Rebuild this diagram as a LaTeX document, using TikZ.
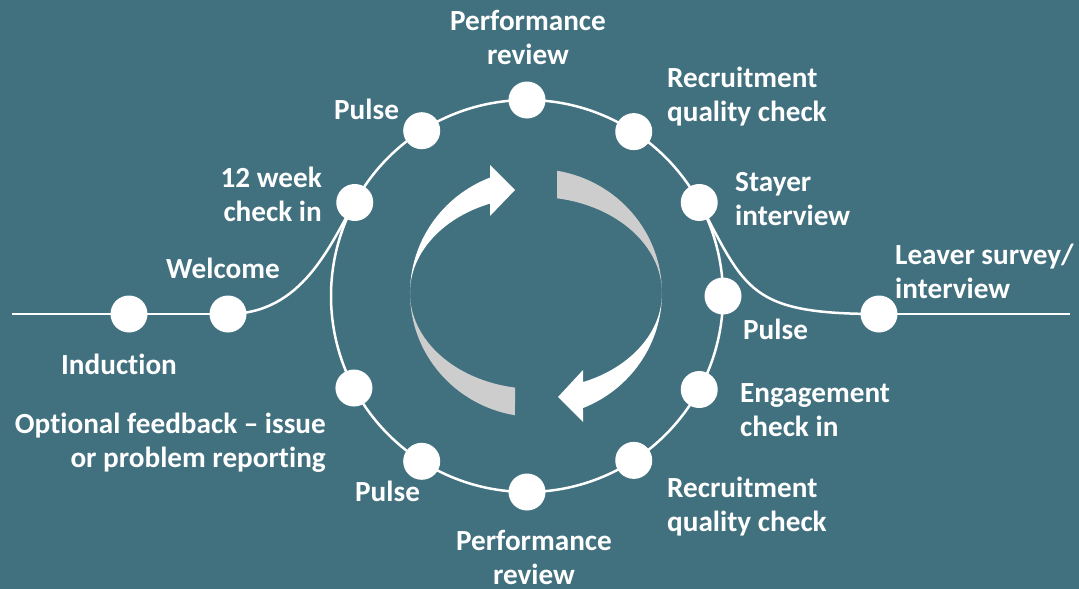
\documentclass[tikz,border=0pt]{standalone}
\usepackage{fontspec}
\setmainfont{Carlito}[Ligatures=NoCommon]
\usetikzlibrary{calc,backgrounds}
\definecolor{bg}{HTML}{41707F}
\definecolor{backgrey}{HTML}{CDCDCD}
\newcommand\mylbl[2]{\begin{tabular}[t]{@{}#1@{}}#2\end{tabular}}
\begin{document}
\begin{tikzpicture}[x=1pt,y=-1pt,
  dot/.style={circle,fill=white,minimum size=37pt,inner sep=0pt},
  txt/.style={text=white,inner sep=0pt,font=\fontsize{29.2}{34}\selectfont\bfseries},
  track/.style={draw=white,line width=2.5pt}]
\useasboundingbox (0,0) rectangle (1079,589);
\coordinate (C) at (527,296);
\coordinate (L0) at (12,314);
\coordinate (R0) at (1070,314);
% dots on circle
\node[dot] (prT) at ($(C)+(-90:196)$) {};
\node[dot] (rqT) at ($(C)+(-57:196)$) {};
\node[dot] (sty) at ($(C)+(-28.5:196)$) {};
\node[dot] (puR) at ($(C)+(0:196)$) {};
\node[dot] (eng) at ($(C)+(28.5:196)$) {};
\node[dot] (rqB) at ($(C)+(57:196)$) {};
\node[dot] (prB) at ($(C)+(90:196)$) {};
\node[dot] (puB) at ($(C)+(122.5:196)$) {};
\node[dot] (opt) at ($(C)+(152:196)$) {};
\node[dot] (wk) at ($(C)+(208.5:196)$) {};
\node[dot] (puT) at ($(C)+(237.5:196)$) {};
% side dots
\node[dot] (ind) at (129,314) {};
\node[dot] (wel) at (228,314) {};
\node[dot] (lea) at (879,314) {};
% tracks behind the dots
\begin{scope}[on background layer]
\fill[bg] (0,0) rectangle (1079,589);
\draw[track] (C) circle[radius=196];
\draw[track] (L0) -- (ind.center) -- (wel.center);
\draw[track] (wel.center) .. controls (303,314) and (330,244) .. (wk.center);
\draw[track] (sty.center) .. controls (746,290) and (749,314) .. (lea.center);
\draw[track] (lea.center) -- (R0);
\end{scope}
% central cycle arrows
\coordinate (A) at (536,293);
\fill[white] (410,293) arc[start angle=180, end angle=248.6, x radius=126, y radius=124]
  -- (490,165) -- (515,190) -- (490,216) -- (490,203.6)
  arc[start angle=248.6, end angle=180, x radius=126, y radius=96] -- cycle;
\fill[backgrey] (410,293) arc[start angle=180, end angle=99.6, x radius=126, y radius=124]
  -- (515,387.6)
  arc[start angle=99.6, end angle=180, x radius=126, y radius=96] -- cycle;
\fill[backgrey] (662,293) arc[start angle=0, end angle=-80.4, x radius=126, y radius=124]
  -- (557,198.3)
  arc[start angle=-80.4, end angle=0, x radius=126, y radius=96] -- cycle;
\fill[white] (662,293) arc[start angle=0, end angle=68.1, x radius=126, y radius=124]
  -- (583,422) -- (558,397) -- (583,370) -- (583,382.1)
  arc[start angle=68.1, end angle=0, x radius=126, y radius=96] -- cycle;
% labels
\node[txt,anchor=base] (tprT) at (528,30) {\mylbl{c}{Performance\\review}};
\node[txt,anchor=base west] (trqT) at (667,87) {\mylbl{l}{Recruitment\\quality check}};
\node[txt,anchor=base west] (tsty) at (735,191) {\mylbl{l}{Stayer\\interview}};
\node[txt,anchor=base west] (tlea) at (895,264) {\mylbl{l}{Leaver survey/\\interview}};
\node[txt,anchor=base west] (tpuR) at (743,339) {Pulse};
\node[txt,anchor=base west] (teng) at (740,402) {\mylbl{l}{Engagement\\check in}};
\node[txt,anchor=base west] (trqB) at (667,497) {\mylbl{l}{Recruitment\\quality check}};
\node[txt,anchor=base] (tprB) at (534,550) {\mylbl{c}{Performance\\review}};
\node[txt,anchor=base west] (tpuB) at (355,501) {Pulse};
\node[txt,anchor=base east] (topt) at (326,433) {\mylbl{r}{Optional feedback – issue\\or problem reporting}};
\node[txt,anchor=base] (tind) at (119,374) {Induction};
\node[txt,anchor=base west] (twel) at (166,278) {Welcome};
\node[txt,anchor=base east] (twk) at (322,187) {\mylbl{r}{12 week\\check in}};
\node[txt,anchor=base west] (tpuT) at (334,119) {Pulse};
\end{tikzpicture}
\end{document}
